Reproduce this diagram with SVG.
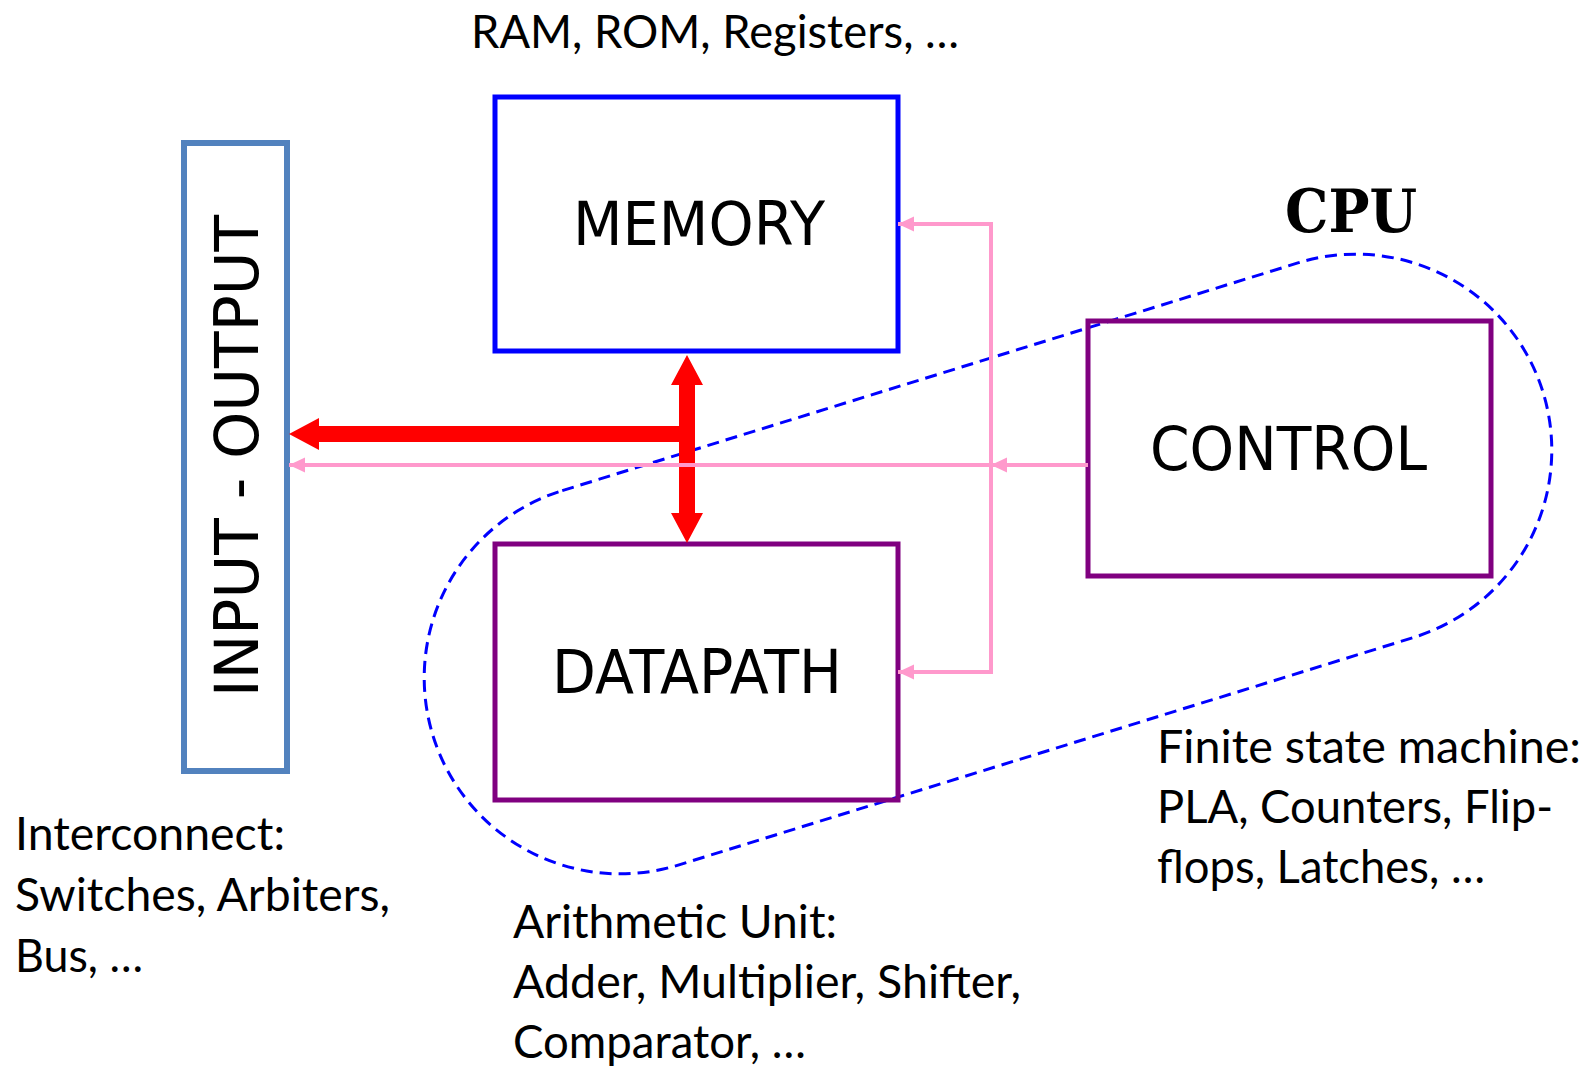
<svg xmlns="http://www.w3.org/2000/svg" width="1593" height="1068" viewBox="0 0 1593 1068">
<style>
.box{fill:none;stroke-width:5}
.mem{stroke:#0000FF}
.pur{stroke:#800080}
.io{stroke:#5282BE;stroke-width:6}
.blk{font-family:"DejaVu Sans",Verdana,sans-serif;font-size:60px;fill:#000}
.lbl{font-family:Lato,"Open Sans",sans-serif;font-size:46px;fill:#000}
.cpu{font-family:"DejaVu Serif",serif;font-weight:bold;font-size:60px;fill:#000}
.pink{fill:none;stroke:#FF99CC;stroke-width:4}
.red{fill:#FF0000}
</style>
<defs>
<marker id="pa" markerUnits="userSpaceOnUse" markerWidth="16" markerHeight="16" refX="16" refY="8" orient="auto">
<path d="M0,0.5 L16,8 L0,15.5 z" fill="#FF99CC"/>
</marker>
</defs>
<rect width="1593" height="1068" fill="#FFFFFF"/>

<g id="cpu-outline">
<rect x="-581" y="-196" width="1162" height="392" rx="196" ry="196" transform="translate(988,564) rotate(-17.2)" fill="none" stroke="#0000FF" stroke-width="3" stroke-dasharray="12 7"/>
<text class="cpu" x="1285" y="232" textLength="132" lengthAdjust="spacingAndGlyphs">CPU</text>
</g>

<g id="memory">
<rect class="box mem" x="495" y="97" width="403" height="254"/>
<text class="blk" x="573" y="245" textLength="252" lengthAdjust="spacingAndGlyphs">MEMORY</text>
</g>

<g id="datapath">
<rect class="box pur" x="495" y="544" width="403" height="256"/>
<text class="blk" x="552" y="693" textLength="290" lengthAdjust="spacingAndGlyphs">DATAPATH</text>
</g>

<g id="control">
<rect class="box pur" x="1088" y="321" width="403" height="255"/>
<text class="blk" x="1150" y="470" textLength="277" lengthAdjust="spacingAndGlyphs">CONTROL</text>
</g>

<g id="input-output">
<rect class="box io" x="184" y="143" width="103" height="628"/>
<text class="blk" transform="translate(258,697) rotate(-90)" x="0" y="0" textLength="482" lengthAdjust="spacingAndGlyphs">INPUT - OUTPUT</text>
</g>

<g id="connectors">
<polygon class="red" points="687,355 703,385 695,385 695,513 703,513 687,543 671,513 679,513 679,385 671,385"/>
<polygon class="red" points="289,434 319,418 319,426 687,426 687,442 319,442 319,450"/>
<path class="pink" d="M1088,465 L991,465" marker-end="url(#pa)"/>
<path class="pink" d="M991,465 L289,465" marker-end="url(#pa)"/>
<path class="pink" d="M991,224 L991,672"/>
<path class="pink" d="M993,224 L898,224" marker-end="url(#pa)"/>
<path class="pink" d="M993,672 L898,672" marker-end="url(#pa)"/>
</g>

<g id="labels">
<text class="lbl" x="471" y="48" textLength="488" lengthAdjust="spacingAndGlyphs">RAM, ROM, Registers, …</text>
<text class="lbl" x="15" y="850" textLength="270" lengthAdjust="spacingAndGlyphs">Interconnect:</text>
<text class="lbl" x="15" y="911" textLength="375" lengthAdjust="spacingAndGlyphs">Switches, Arbiters,</text>
<text class="lbl" x="15" y="972" textLength="128" lengthAdjust="spacingAndGlyphs">Bus, …</text>
<text class="lbl" x="513" y="938" textLength="324" lengthAdjust="spacingAndGlyphs">Arithmetic Unit:</text>
<text class="lbl" x="513" y="998" textLength="508" lengthAdjust="spacingAndGlyphs">Adder, Multiplier, Shifter,</text>
<text class="lbl" x="513" y="1058" textLength="293" lengthAdjust="spacingAndGlyphs">Comparator, …</text>
<text class="lbl" x="1157" y="763" textLength="424" lengthAdjust="spacingAndGlyphs">Finite state machine:</text>
<text class="lbl" x="1157" y="823" textLength="396" lengthAdjust="spacingAndGlyphs">PLA, Counters, Flip-</text>
<text class="lbl" x="1157" y="883" textLength="328" lengthAdjust="spacingAndGlyphs">flops, Latches, …</text>
</g>
</svg>
